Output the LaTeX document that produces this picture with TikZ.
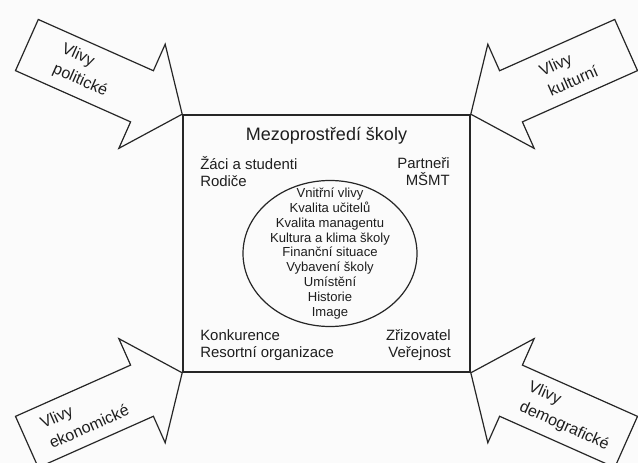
\documentclass[tikz,border=0pt]{standalone}
\usepackage{fontspec}
\setmainfont{Liberation Sans}
\usetikzlibrary{shapes.geometric}
\definecolor{textcol}{HTML}{1E1E1E}
\definecolor{linecol}{HTML}{262626}
\definecolor{papercol}{HTML}{FBFBFB}

\begin{document}
\begin{tikzpicture}[x=0.75pt,y=-0.75pt,
	cornertxt/.style={font=\fontsize{11.2}{12.8}\selectfont,text=textcol,inner sep=0pt},
	vlivtxt/.style={font=\fontsize{12}{16.5}\selectfont,text=textcol,align=left,inner sep=0pt},
	vlivarrow/.style={draw=linecol,line width=0.9pt}]
\fill[papercol] (0,0) rectangle (638,463);
\useasboundingbox (0,0) rectangle (638,463);
\node[draw=linecol,line width=1.2pt,minimum width=215.25pt,minimum height=192.75pt,inner sep=0pt] (skola) at (326.5,243.5) {};
\node[font=\fontsize{13.5}{16}\selectfont,text=textcol] (mezo) at (326.5,136) {Mezoprostředí školy};
\node[cornertxt,align=left,anchor=west] (zaci) at (200,171.5) {Žáci a studenti\\Rodiče};
\node[cornertxt,align=right,anchor=east] (partneri) at (450,171.5) {Partneři\\MŠMT};
\node[cornertxt,align=left,anchor=west] (konkurence) at (200,345.5) {Konkurence\\Resortní organizace};
\node[cornertxt,align=right,anchor=east] (zrizovatel) at (451,345) {Zřizovatel\\Veřejnost};
\node[ellipse,draw=linecol,line width=0.9pt,minimum width=130.5pt,minimum height=109.5pt,inner sep=0pt] (kruh) at (330,253.5) {};
\node[align=center,text=textcol,font=\fontsize{9.8}{11.2}\selectfont] (vnitrni) at (kruh.center) {Vnitřní vlivy\\Kvalita učitelů\\Kvalita managentu\\Kultura a klima školy\\Finanční situace\\Vybavení školy\\Umístění\\Historie\\Image};
\foreach \corner/\ang/\rot/\txt [count=\i] in {
	north west/156/-24/Vlivy\\politické,
	north east/24/24/Vlivy\\kulturní,
	south west/204/24/Vlivy\\ekonomické,
	south east/-24/-24/Vlivy\\demografické%
	}{
	\draw[vlivarrow,shift={(skola.\corner)},rotate=\ang] (0,0) -- (44,57) -- (44,28) -- (170,28) -- (170,-28) -- (44,-28) -- (44,-57) -- cycle;
	\node[vlivtxt,rotate=\rot] (vliv\i) at ([shift={(skola.\corner)},rotate=\ang]107,0) {\txt};
	}
\end{tikzpicture}
\end{document}
